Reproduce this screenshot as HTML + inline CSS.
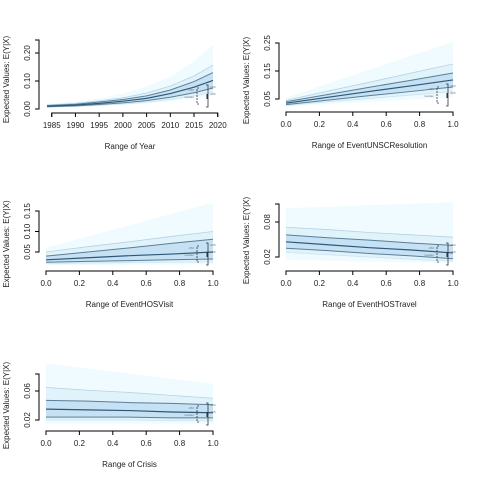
<!DOCTYPE html>
<html><head><meta charset="utf-8"><style>
html,body{margin:0;padding:0;background:#fff;width:480px;height:480px;overflow:hidden}
svg{display:block;font-family:"Liberation Sans",sans-serif}
</style></head><body>
<svg id="c" width="480" height="480"></svg>
<script>
// Panel 1: Year
const p1X=[1984,1990,1995,2000,2005,2010,2015,2019];
const p1Med=[0.010,0.014,0.020,0.028,0.038,0.055,0.078,0.102];
const p1InLo=[0.008,0.011,0.016,0.022,0.030,0.042,0.058,0.075];
const p1InHi=[0.012,0.017,0.025,0.034,0.047,0.068,0.098,0.130];
const p1MidLo=[0.007,0.009,0.013,0.018,0.024,0.034,0.047,0.060];
const p1MidHi=[0.014,0.020,0.029,0.040,0.057,0.082,0.118,0.157];
const p1OutLo=[0.006,0.008,0.011,0.015,0.020,0.028,0.038,0.048];
const p1OutHi=[0.018,0.026,0.038,0.055,0.080,0.115,0.170,0.230];
const p1XTicks=[1985,1990,1995,2000,2005,2010,2015,2020];
const p1YTicks=[0.00,0.10,0.20];
// Panel 2: EventUNSCResolution
const p2X=[0,0.25,0.5,0.75,1];
const p2Med=[0.035,0.056,0.077,0.097,0.118];
const p2InLo=[0.030,0.046,0.062,0.077,0.093];
const p2InHi=[0.040,0.066,0.092,0.117,0.143];
const p2MidLo=[0.027,0.040,0.052,0.064,0.076];
const p2MidHi=[0.045,0.078,0.110,0.143,0.175];
const p2OutLo=[0.024,0.032,0.040,0.048,0.056];
const p2OutHi=[0.055,0.105,0.155,0.205,0.253];
const p2XTicks=[0,0.2,0.4,0.6,0.8,1.0];
const p2YTicks=[0.05,0.15,0.25];
// Panel 3: EventHOSVisit
const p3X=[0,0.25,0.5,0.75,1];
const p3Med=[0.031,0.036,0.041,0.045,0.050];
const p3InLo=[0.025,0.027,0.029,0.031,0.033];
const p3InHi=[0.040,0.050,0.060,0.071,0.081];
const p3MidLo=[0.022,0.023,0.024,0.025,0.026];
const p3MidHi=[0.050,0.063,0.075,0.088,0.100];
const p3OutLo=[0.018,0.018,0.019,0.019,0.020];
const p3OutHi=[0.060,0.088,0.115,0.143,0.170];
const p3XTicks=[0,0.2,0.4,0.6,0.8,1.0];
const p3YTicks=[0.05,0.10,0.15];
// Panel 4: EventHOSTravel
const p4X=[0,0.25,0.5,0.75,1];
const p4Med=[0.046,0.041,0.036,0.032,0.027];
const p4InLo=[0.035,0.031,0.026,0.022,0.017];
const p4InHi=[0.058,0.053,0.049,0.044,0.040];
const p4MidLo=[0.028,0.024,0.020,0.016,0.013];
const p4MidHi=[0.071,0.067,0.062,0.058,0.054];
const p4OutLo=[0.015,0.014,0.012,0.011,0.010];
const p4OutHi=[0.104,0.106,0.109,0.111,0.114];
const p4XTicks=[0,0.2,0.4,0.6,0.8,1.0];
const p4YTicks=[0.02,0.08];
// Panel 5: Crisis
const p5X=[0,0.25,0.5,0.75,1];
const p5Med=[0.035,0.034,0.033,0.031,0.030];
const p5InLo=[0.024,0.024,0.024,0.023,0.023];
const p5InHi=[0.047,0.046,0.044,0.043,0.041];
const p5MidLo=[0.020,0.020,0.020,0.019,0.019];
const p5MidHi=[0.065,0.061,0.058,0.054,0.050];
const p5OutLo=[0.015,0.015,0.015,0.015,0.015];
const p5OutHi=[0.098,0.091,0.084,0.077,0.070];
const p5XTicks=[0,0.2,0.4,0.6,0.8,1.0];
const p5YTicks=[0.02,0.06];

const NS="http://www.w3.org/2000/svg";
const svg=document.getElementById('c');
function mk(tag,attrs,parent){const e=document.createElementNS(NS,tag);for(const k in attrs)e.setAttribute(k,attrs[k]);(parent||svg).appendChild(e);return e;}

const panels=[
 {name:'year',x:p1X,med:p1Med,inLo:p1InLo,inHi:p1InHi,midLo:p1MidLo,midHi:p1MidHi,outLo:p1OutLo,outHi:p1OutHi,xt:p1XTicks,yt:p1YTicks,
  xd:[1984,2019],xp:[47,213],yd:[0,0.2],yp:[109,53],ax:39,ay:113,yTop:40,yBot:109,label:'Range of Year',dig:0,ydig:2},
 {name:'unsc',x:p2X,med:p2Med,inLo:p2InLo,inHi:p2InHi,midLo:p2MidLo,midHi:p2MidHi,outLo:p2OutLo,outHi:p2OutHi,xt:p2XTicks,yt:p2YTicks,
  xd:[0,1],xp:[286,453],yd:[0.05,0.25],yp:[99,43],ax:279,ay:112,yTop:43,yBot:99,label:'Range of EventUNSCResolution',dig:1,ydig:2},
 {name:'hosvisit',x:p3X,med:p3Med,inLo:p3InLo,inHi:p3InHi,midLo:p3MidLo,midHi:p3MidHi,outLo:p3OutLo,outHi:p3OutHi,xt:p3XTicks,yt:p3YTicks,
  xd:[0,1],xp:[46,213],yd:[0.05,0.15],yp:[252,211],ax:39,ay:271,yTop:211,yBot:252,label:'Range of EventHOSVisit',dig:1,ydig:2},
 {name:'hostravel',x:p4X,med:p4Med,inLo:p4InLo,inHi:p4InHi,midLo:p4MidLo,midHi:p4MidHi,outLo:p4OutLo,outHi:p4OutHi,xt:p4XTicks,yt:p4YTicks,
  xd:[0,1],xp:[286,453],yd:[0.02,0.08],yp:[257,222],ax:279,ay:271,yTop:204,yBot:257,label:'Range of EventHOSTravel',dig:1,ydig:2},
 {name:'crisis',x:p5X,med:p5Med,inLo:p5InLo,inHi:p5InHi,midLo:p5MidLo,midHi:p5MidHi,outLo:p5OutLo,outHi:p5OutHi,xt:p5XTicks,yt:p5YTicks,
  xd:[0,1],xp:[46,213],yd:[0.02,0.06],yp:[420,391],ax:39,ay:431,yTop:374,yBot:420,label:'Range of Crisis',dig:1,ydig:2}
];

panels.forEach(p=>{
  const g=mk('g',{});
  
  
  const sx=v=>p.xp[0]+(v-p.xd[0])/(p.xd[1]-p.xd[0])*(p.xp[1]-p.xp[0]);
  const sy=v=>p.yp[0]+(v-p.yd[0])/(p.yd[1]-p.yd[0])*(p.yp[1]-p.yp[0]);
  const band=(lo,hi,fill,nm)=>{
    let d='M'+p.x.map((v,i)=>sx(v)+','+sy(hi[i])).join('L');
    d+='L'+p.x.slice().reverse().map((v,j)=>{const i=p.x.length-1-j;return sx(v)+','+sy(lo[i]);}).join('L')+'Z';
    const e=mk('path',{d:d,fill:fill,stroke:'none'},g);
    
    
  };
  const line=(arr,col,w,nm)=>{
    const e=mk('polyline',{points:p.x.map((v,i)=>sx(v)+','+sy(arr[i])).join(' '),fill:'none',stroke:col,'stroke-width':w},g);
    
    
  };
  band(p.outLo,p.outHi,'#effbff','outer-band');
  band(p.midLo,p.midHi,'#e0f3fb','middle-band');
  band(p.inLo,p.inHi,'#c6e1f3','inner-band');
  line(p.midHi,'#b5d2e2',0.8,'middle-upper-line');
  line(p.midLo,'#cfe4ef',0.8,'middle-lower-line');
  line(p.inHi,'#5a7f98',1,'inner-upper-line');
  line(p.inLo,'#5a7f98',1,'inner-lower-line');
  line(p.med,'#2f5878',1.2,'median-line');
  // legend bracket annotation
  const lx=p.xp[1]-16, ly=p.ay-17;
  const la=mk('g',{},g);
  
  
  mk('path',{d:`M${lx+2},${ly-8}h-2v16h2`,fill:'none',stroke:'#333','stroke-width':0.8,'stroke-dasharray':'2,1'},la);
  mk('path',{d:`M${lx+9},${ly-11}h2v22h-2`,fill:'none',stroke:'#333','stroke-width':0.8},la);
  mk('rect',{x:lx+9.5,y:ly-2,width:1.5,height:5,fill:'#333'},la);
  [['ci50',lx-3,ly-5],['median',lx-3,ly+2],['ci80',lx+13,ly-8],['ci95',lx+13,ly-1]].forEach(t=>{
    const e=mk('text',{x:t[1],y:t[2],'font-size':3,fill:'#777','text-anchor':t[1]<lx?'end':'start'},la);e.textContent=t[0];
  });
  // axes
  const ya=mk('path',{d:`M${p.ax-4},${p.yTop}H${p.ax}V${p.yBot}H${p.ax-4}`,fill:'none',stroke:'#000','stroke-width':1},g);
  
  
  p.yt.forEach(v=>{
    const y=sy(v);
    mk('line',{x1:p.ax-4,x2:p.ax,y1:y,y2:y,stroke:'#000'},g);
    const t=mk('text',{x:p.ax-9,y:y,'font-size':8,'text-anchor':'middle',transform:`rotate(-90 ${p.ax-9} ${y})`,fill:'#222'},g);
    
    
    t.textContent=v.toFixed(p.ydig);
  });
  const x0=sx(p.xt[0]),x1=sx(p.xt[p.xt.length-1]);
  const xa=mk('path',{d:`M${x0},${p.ay+4}V${p.ay}H${x1}V${p.ay+4}`,fill:'none',stroke:'#000'},g);
  
  
  p.xt.forEach(v=>{
    const x=sx(v);
    mk('line',{x1:x,x2:x,y1:p.ay,y2:p.ay+4,stroke:'#000'},g);
    const t=mk('text',{x:x,y:p.ay+15,'font-size':8,'text-anchor':'middle',fill:'#222'},g);
    
    
    t.textContent=v.toFixed(p.dig);
  });
  const xl=mk('text',{x:(p.xp[0]+p.xp[1])/2,y:p.ay+36,'font-size':8,'text-anchor':'middle',fill:'#222'},g);
  
  
  xl.textContent=p.label;
  const yx=p.ax-30, yc=(p.yTop+p.ay)/2+3;
  const yl=mk('text',{x:yx,y:yc,'font-size':8,'text-anchor':'middle',transform:`rotate(-90 ${yx} ${yc})`,fill:'#222'},g);
  
  
  yl.textContent='Expected Values: E(Y|X)';
});
</script>
</body></html>
